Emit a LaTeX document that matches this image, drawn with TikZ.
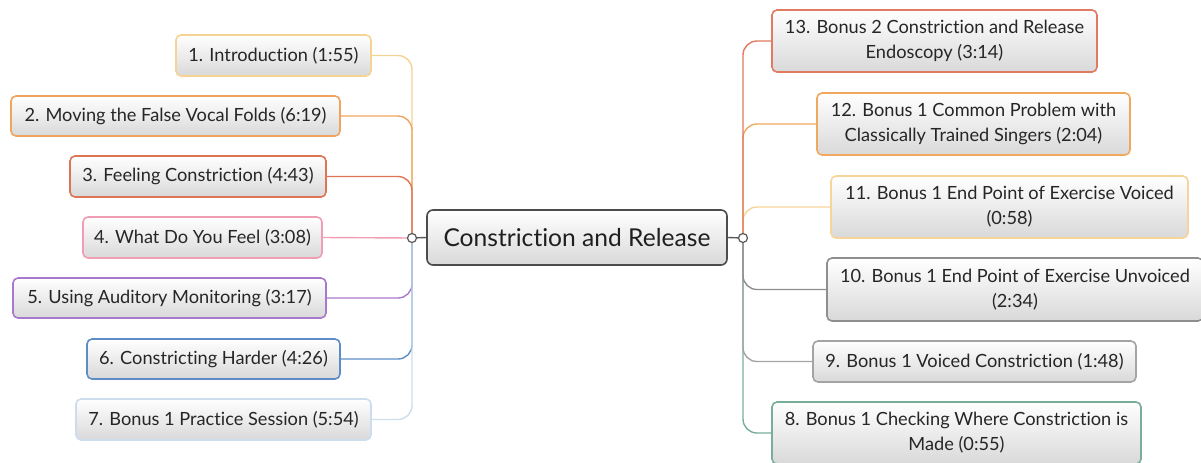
\documentclass[tikz,border=0pt]{standalone}
\usepackage{fontspec}
\setmainfont{Lato}[Ligatures=NoCommon]
\usetikzlibrary{positioning,shadings}

\definecolor{cIntro}{HTML}{F5D393}
\definecolor{cMove}{HTML}{EFA460}
\definecolor{cFeel}{HTML}{DD7456}
\definecolor{cWhat}{HTML}{F19DB4}
\definecolor{cAudi}{HTML}{A878CC}
\definecolor{cHard}{HTML}{5D8DC6}
\definecolor{cPrac}{HTML}{CCDDEE}
\definecolor{cEndo}{HTML}{E07A60}
\definecolor{cClas}{HTML}{F0A85E}
\definecolor{cVoic}{HTML}{F6D59A}
\definecolor{cUnvo}{HTML}{8E8E8E}
\definecolor{cCons}{HTML}{A4A4A4}
\definecolor{cMade}{HTML}{78AE98}

\begin{document}
\begin{tikzpicture}[x=0.5pt,y=-0.5pt,
    topic/.style={draw=#1, line width=0.8pt, rounded corners=2.5pt,
        top color=white, bottom color=black!15, text=black!85,
        font=\fontsize{9.1}{12.5}\selectfont, align=center, inner sep=0pt},
    root/.style={draw=black!70, line width=0.8pt, rounded corners=3pt,
        top color=white, bottom color=black!15, text=black!88,
        font=\fontsize{12.3}{14}\selectfont, inner sep=0pt,
        minimum width=150pt, minimum height=27.5pt},
    link/.style={draw=#1, line width=0.7pt, rounded corners=7pt},
    hub/.style={circle, draw=black!65, fill=white, line width=0.6pt,
        inner sep=0pt, minimum size=4.5pt}]
    \useasboundingbox (0,0) rectangle (1201,462);

    % centre
    \node[root] (root) at (577,237.5) {Constriction and Release};
    \coordinate (lhub) at (412,238);
    \coordinate (rhub) at (743,238);

    % left topics
    \node[topic=cIntro, minimum width=97.5pt, minimum height=20.5pt] (t1) at (273.5,55.5) {1. Introduction (1:55)};
    \node[topic=cMove, minimum width=164.5pt, minimum height=20pt] (t2) at (175.5,116) {2. Moving the False Vocal Folds (6:19)};
    \node[topic=cFeel, minimum width=128pt, minimum height=20.5pt] (t3) at (198,176.5) {3. Feeling Constriction (4:43)};
    \node[topic=cWhat, minimum width=119.5pt, minimum height=20.5pt] (t4) at (202.5,237.5) {4. What Do You Feel (3:08)};
    \node[topic=cAudi, minimum width=156.5pt, minimum height=20pt] (t5) at (169.5,298) {5. Using Auditory Monitoring (3:17)};
    \node[topic=cHard, minimum width=126.5pt, minimum height=20pt] (t6) at (213.5,359) {6. Constricting Harder (4:26)};
    \node[topic=cPrac, minimum width=147.5pt, minimum height=20.5pt] (t7) at (223.5,419.5) {7. Bonus 1 Practice Session (5:54)};

    % right topics
    \node[topic=cEndo, minimum width=162.5pt, minimum height=31pt] (t13) at (934.5,41) {13. Bonus 2 Constriction and Release\\Endoscopy (3:14)};
    \node[topic=cClas, minimum width=156.5pt, minimum height=31pt] (t12) at (973.5,124) {12. Bonus 1 Common Problem with\\Classically Trained Singers (2:04)};
    \node[topic=cVoic, minimum width=178.5pt, minimum height=31pt] (t11) at (1009.5,207) {11. Bonus 1 End Point of Exercise Voiced\\(0:58)};
    \node[topic=cUnvo, minimum width=188pt, minimum height=31.5pt] (t10) at (1015,289.5) {10. Bonus 1 End Point of Exercise Unvoiced\\(2:34)};
    \node[topic=cCons, minimum width=161.5pt, minimum height=20.5pt] (t9) at (974.5,361.5) {9. Bonus 1 Voiced Constriction (1:48)};
    \node[topic=cMade, minimum width=184.5pt, minimum height=31pt] (t8) at (956.5,433) {8. Bonus 1 Checking Where Constriction is\\Made (0:55)};

    % branches
    \draw[link=cIntro] (lhub) |- (t1.east);
    \draw[link=cMove] (lhub) |- (t2.east);
    \draw[link=cFeel] (lhub) |- (t3.east);
    \draw[link=cWhat] (lhub) -- (t4.east);
    \draw[link=cAudi] (lhub) |- (t5.east);
    \draw[link=cHard] (lhub) |- (t6.east);
    \draw[link=cPrac] (lhub) |- (t7.east);

    \draw[link=cVoic] (rhub) |- (t11.west);
    \draw[link=cClas] (rhub) |- (t12.west);
    \draw[link=cEndo] (rhub) |- (t13.west);
    \draw[link=cMade] (rhub) |- (t8.west);
    \draw[link=cCons] (rhub) |- (t9.west);
    \draw[link=cUnvo] (rhub) |- (t10.west);

    \draw[black!65, line width=0.7pt] (root.west) -- (lhub);
    \draw[black!65, line width=0.7pt] (root.east) -- (rhub);
    \node[hub] (lknob) at (lhub) {};
    \node[hub] (rknob) at (rhub) {};
\end{tikzpicture}
\end{document}
